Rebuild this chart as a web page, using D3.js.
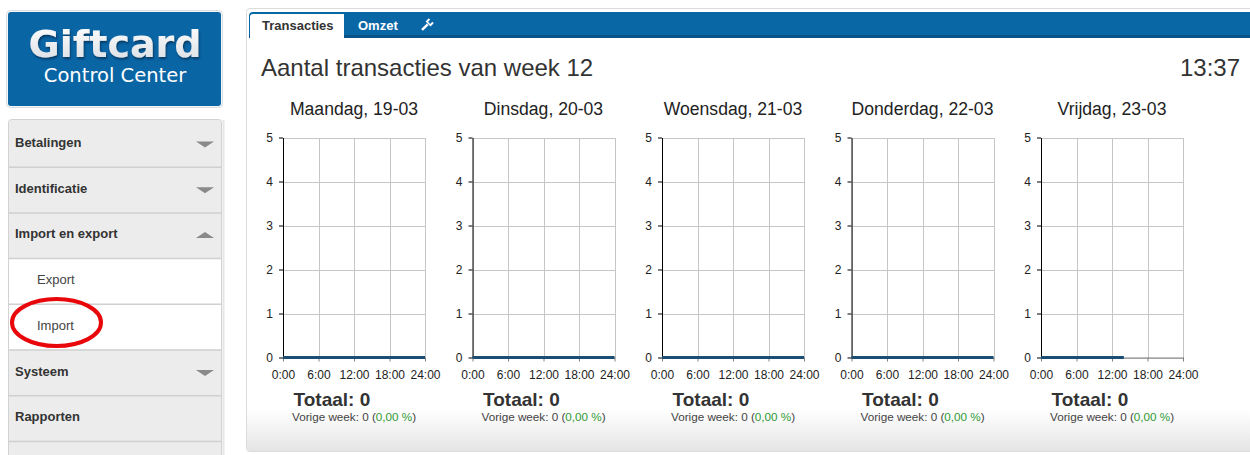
<!DOCTYPE html>
<html>
<head>
<meta charset="utf-8">
<title>Giftcard Control Center - Transacties</title>
<script src="https://cdn.jsdelivr.net/npm/d3@7"></script>
<style>
  html, body { margin: 0; padding: 0; background: #fff; }
  svg { display: block; font-family: "Liberation Sans", Arial, sans-serif; }
  .grid line { stroke: #c6c6c6; shape-rendering: crispEdges; }
  .grid .domain { display: none; }
  .axis text { fill: #222; font-size: 12px; }
  .axis--y .domain, .axis--y line { stroke: #000; }
  .axis--x .domain, .axis--x line { stroke: #808080; }
</style>
</head>
<body>
<div id="chart"></div>
<script>
// ---- data ----
var weekNr = 12;
var clock = "13:37";
var days = ["Maandag, 19-03", "Dinsdag, 20-03", "Woensdag, 21-03", "Donderdag, 22-03", "Vrijdag, 23-03"];
var hourTicks = [0, 6, 12, 18, 24];
var hourLabels = ["0:00", "6:00", "12:00", "18:00", "24:00"];
var countTicks = [0, 1, 2, 3, 4, 5];

// transactions per hour (hour of day -> count)
var hoursFull = [0, 1, 2, 3, 4, 5, 6, 7, 8, 9, 10, 11, 12, 13, 14, 15, 16, 17, 18, 19, 20, 21, 22, 23, 24];
var hoursToday = [0, 1, 2, 3, 4, 5, 6, 7, 8, 9, 10, 11, 12, 13, 14];
var mondayCounts    = [0, 0, 0, 0, 0, 0, 0, 0, 0, 0, 0, 0, 0, 0, 0, 0, 0, 0, 0, 0, 0, 0, 0, 0, 0];
var tuesdayCounts   = [0, 0, 0, 0, 0, 0, 0, 0, 0, 0, 0, 0, 0, 0, 0, 0, 0, 0, 0, 0, 0, 0, 0, 0, 0];
var wednesdayCounts = [0, 0, 0, 0, 0, 0, 0, 0, 0, 0, 0, 0, 0, 0, 0, 0, 0, 0, 0, 0, 0, 0, 0, 0, 0];
var thursdayCounts  = [0, 0, 0, 0, 0, 0, 0, 0, 0, 0, 0, 0, 0, 0, 0, 0, 0, 0, 0, 0, 0, 0, 0, 0, 0];
var fridayCounts    = [0, 0, 0, 0, 0, 0, 0, 0, 0, 0, 0, 0, 0, 0, 0];

var totals = [0, 0, 0, 0, 0];
var previousWeek = [0, 0, 0, 0, 0];
var changeLabels = ["0,00 %", "0,00 %", "0,00 %", "0,00 %", "0,00 %"];

var menuItems = [
  {label: "Betalingen", sub: false, arrow: "down"},
  {label: "Identificatie", sub: false, arrow: "down"},
  {label: "Import en export", sub: false, arrow: "up"},
  {label: "Export", sub: true, arrow: null},
  {label: "Import", sub: true, arrow: null},
  {label: "Systeem", sub: false, arrow: "down"},
  {label: "Rapporten", sub: false, arrow: null},
  {label: "", sub: false, arrow: null}
];

var series = [
  {hours: hoursFull, counts: mondayCounts},
  {hours: hoursFull, counts: tuesdayCounts},
  {hours: hoursFull, counts: wednesdayCounts},
  {hours: hoursFull, counts: thursdayCounts},
  {hours: hoursToday, counts: fridayCounts}
];

var width = 1250, height = 455;
var svg = d3.select("#chart").append("svg")
  .attr("width", width).attr("height", height);

var defs = svg.append("defs");
var fade = defs.append("linearGradient").attr("id", "fade")
  .attr("x1", 0).attr("y1", 0).attr("x2", 0).attr("y2", 1);
fade.append("stop").attr("offset", "0").attr("stop-color", "#ffffff");
fade.append("stop").attr("offset", "1").attr("stop-color", "#e4e4e4");
var logoText = defs.append("linearGradient").attr("id", "logoText")
  .attr("x1", 0).attr("y1", 0).attr("x2", 0).attr("y2", 1);
logoText.append("stop").attr("offset", "0").attr("stop-color", "#ffffff");
logoText.append("stop").attr("offset", "1").attr("stop-color", "#d8dde2");
var shadow = defs.append("filter").attr("id", "shadow")
  .attr("x", "-10%").attr("y", "-20%").attr("width", "130%").attr("height", "150%");
shadow.append("feDropShadow").attr("dx", 1).attr("dy", 2).attr("stdDeviation", 1.2)
  .attr("flood-color", "#002a4a").attr("flood-opacity", 0.7);

// ---- left column: logo + menu ----
svg.append("rect").attr("x", 6.5).attr("y", 10.5).attr("width", 216).attr("height", 97)
  .attr("rx", 4).attr("fill", "#f4f6f8").attr("stroke", "#d6dde4");
svg.append("rect").attr("x", 8).attr("y", 12).attr("width", 213).attr("height", 94)
  .attr("rx", 3).attr("fill", "#0a65a5");
svg.append("text").attr("x", 115).attr("y", 57).attr("text-anchor", "middle")
  .attr("font-family", "DejaVu Sans, Verdana, sans-serif").attr("font-weight", "bold")
  .attr("font-size", 38).attr("fill", "url(#logoText)").attr("filter", "url(#shadow)")
  .text("Giftcard");
svg.append("text").attr("x", 115).attr("y", 82).attr("text-anchor", "middle")
  .attr("font-family", "DejaVu Sans, Verdana, sans-serif")
  .attr("font-size", 19.5).attr("fill", "#fff")
  .text("Control Center");

var itemH = 45.7, menuTop = 121;
var menu = svg.append("g");
menu.append("rect").attr("x", 8.5).attr("y", menuTop - 1.5).attr("width", 213).attr("height", 340)
  .attr("rx", 3).attr("fill", "#ececec").attr("stroke", "#d2d2d2");
var item = menu.selectAll(".item").data(menuItems).enter().append("g")
  .attr("transform", function(d, i) { return "translate(0," + (menuTop + i * itemH) + ")"; });
item.append("rect").attr("x", 9).attr("y", 0).attr("width", 212).attr("height", itemH)
  .attr("fill", function(d) { return d.sub ? "#fff" : "#ececec"; });
item.filter(function(d, i) { return i > 0; }).append("line")
  .attr("x1", 9).attr("x2", 221).attr("y1", 0.5).attr("y2", 0.5)
  .attr("stroke", "#d0d0d0").attr("stroke-width", 1.5);
item.append("text")
  .attr("x", function(d) { return d.sub ? 37 : 15; })
  .attr("y", 26)
  .attr("font-size", 13)
  .attr("font-weight", function(d) { return d.sub ? "normal" : "bold"; })
  .attr("fill", function(d) { return d.sub ? "#444" : "#333"; })
  .text(function(d) { return d.label; });
item.filter(function(d) { return d.arrow; }).append("path")
  .attr("d", function(d) {
    return d.arrow === "down" ? "M196,20.5 L214,20.5 L205,26.5 Z" : "M196,25.5 L214,25.5 L205,19.5 Z";
  })
  .attr("fill", "#8a8a8a");
svg.append("line").attr("x1", 223.5).attr("x2", 223.5).attr("y1", 120).attr("y2", 455)
  .attr("stroke", "#e6e6e6").attr("stroke-width", 2);

// red ring around "Import"
svg.append("ellipse").attr("cx", 56.5).attr("cy", 322.5).attr("rx", 44.5).attr("ry", 23.5)
  .attr("fill", "none").attr("stroke", "#e8070b").attr("stroke-width", 4);

// ---- main panel ----
svg.append("rect").attr("x", 246.5).attr("y", 8.5).attr("width", 1020).attr("height", 443)
  .attr("rx", 3).attr("fill", "#fff").attr("stroke", "#dcdcdc");
svg.append("rect").attr("x", 247).attr("y", 410).attr("width", 1010).attr("height", 41)
  .attr("fill", "url(#fade)");
svg.append("path").attr("d", "M249,38 L249,16 Q249,12 253,12 L1260,12 L1260,38 Z")
  .attr("fill", "#0a67a6");
svg.append("rect").attr("x", 249).attr("y", 35).attr("width", 1011).attr("height", 3)
  .attr("fill", "#09548a");
svg.append("path").attr("d", "M250,38 L250,17 Q250,14 253,14 L344,14 L344,38 Z")
  .attr("fill", "#fff");
svg.append("text").attr("x", 262).attr("y", 30).attr("font-size", 13).attr("font-weight", "bold")
  .attr("fill", "#333").text("Transacties");
svg.append("text").attr("x", 358).attr("y", 30).attr("font-size", 13).attr("font-weight", "bold")
  .attr("fill", "#fff").text("Omzet");
// wrench icon
var wrench = svg.append("g").attr("transform", "translate(427,25) rotate(45)");
wrench.append("rect").attr("x", -1.2).attr("y", -1).attr("width", 2.4).attr("height", 8).attr("fill", "#fff");
wrench.append("path").attr("d", "M-3.5,-1.5 L-3.5,-6 L-1.5,-6 L-1.5,-3 L1.5,-3 L1.5,-6 L3.5,-6 L3.5,-1.5 Z").attr("fill", "#fff");

svg.append("text").attr("x", 261).attr("y", 76).attr("font-size", 24).attr("fill", "#333")
  .text("Aantal transacties van week " + weekNr);
svg.append("text").attr("x", 1240).attr("y", 76).attr("font-size", 24).attr("fill", "#333")
  .attr("text-anchor", "end").text(clock);

// ---- small multiples ----
var plotW = 142, plotH = 220, plotTop = 137.5;
var panel = d3.scaleBand().domain(days).range([283, 283 + 189.5 * days.length]);
var x = d3.scaleLinear().domain([0, 24]).range([0, plotW]);
var y = d3.scaleLinear().domain([0, 5]).range([plotH, 0]);
var line = d3.line()
  .x(function(d) { return x(d[0]); })
  .y(function(d) { return y(d[1]); });

days.forEach(function(day, i) {
  var g = svg.append("g")
    .attr("transform", "translate(" + panel(day) + "," + plotTop + ")");

  g.append("text").attr("x", plotW / 2).attr("y", 115 - plotTop)
    .attr("text-anchor", "middle").attr("font-size", 17.6).attr("fill", "#222")
    .text(day);

  g.append("g").attr("class", "grid")
    .call(d3.axisLeft(y).tickValues(countTicks).tickSize(-plotW).tickFormat(""));
  g.append("g").attr("class", "grid")
    .attr("transform", "translate(0," + plotH + ")")
    .call(d3.axisBottom(x).tickValues(hourTicks).tickSize(plotH).tickFormat(""))
    .selectAll("line").attr("y2", -plotH);

  g.append("g").attr("class", "axis axis--x")
    .attr("transform", "translate(0," + plotH + ")")
    .call(d3.axisBottom(x).tickValues(hourTicks).tickSize(4).tickSizeOuter(0).tickPadding(9)
      .tickFormat(function(d, k) { return hourLabels[k]; }));
  g.append("g").attr("class", "axis axis--y")
    .call(d3.axisLeft(y).tickValues(countTicks).tickSize(4).tickSizeOuter(0).tickPadding(6)
      .tickFormat(d3.format("d")));

  var s = series[i];
  var pts = s.hours.map(function(h, k) { return [h, s.counts[k]]; });
  g.append("path").datum(pts)
    .attr("fill", "none").attr("stroke", "#1b4e72").attr("stroke-width", 3)
    .attr("d", line);

  g.append("text").attr("x", 10.5).attr("y", 406 - plotTop)
    .attr("font-size", 19).attr("font-weight", "bold").attr("fill", "#333")
    .text("Totaal: " + totals[i]);
  var sub = g.append("text").attr("x", 9).attr("y", 420.5 - plotTop)
    .attr("font-size", 11.7).attr("fill", "#444");
  sub.append("tspan").text("Vorige week: " + previousWeek[i] + " (");
  sub.append("tspan").attr("fill", "#2f9a35").text(changeLabels[i]);
  sub.append("tspan").text(")");
});
</script>
</body>
</html>
